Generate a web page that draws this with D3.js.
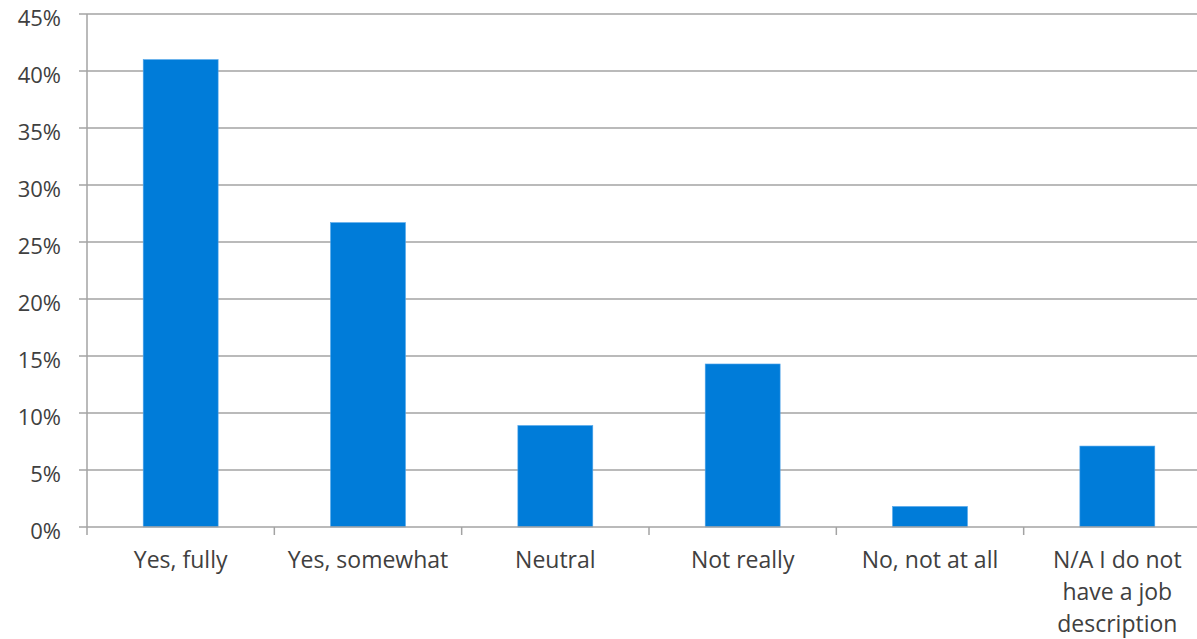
<!DOCTYPE html>
<html>
<head>
<meta charset="utf-8">
<script src="https://cdn.jsdelivr.net/npm/d3@7"></script>
<style>
  html, body { margin: 0; padding: 0; background: #fff; overflow: hidden; }
  svg { display: block; }
  text { font-family: "Open Sans", "Noto Sans", sans-serif; fill: #404040; }
</style>
</head>
<body>
<svg id="chart" width="1197" height="639"></svg>
<script>
const categories = ["Yes, fully", "Yes, somewhat", "Neutral", "Not really", "No, not at all", "N/A I do not have a job description"];
const labelLines = [["Yes, fully"], ["Yes, somewhat"], ["Neutral"], ["Not really"], ["No, not at all"], ["N/A I do not", "have a job", "description"]];
const values = [41.0, 26.7, 8.9, 14.3, 1.8, 7.1];
const yTicks = [0, 5, 10, 15, 20, 25, 30, 35, 40, 45];

(function () {
const svg = d3.select("#chart");
const mLeft = 87, mRight = 1211, mTop = 14, mBottom = 527;
const gridColor = "#a3a3a3";

const x = d3.scaleBand().domain(categories).range([mLeft, mRight]).paddingInner(0.6).paddingOuter(0.3);
const y = d3.scaleLinear().domain([0, 45]).range([mBottom, mTop]);

// gridlines
svg.append("g").selectAll("line").data(yTicks.filter(d => d > 0)).join("line")
  .attr("x1", mLeft).attr("x2", mRight)
  .attr("y1", d => y(d)).attr("y2", d => y(d))
  .attr("stroke", gridColor).attr("stroke-width", 1.5);

// y axis
const yAxis = svg.append("g");
yAxis.append("line").attr("x1", mLeft).attr("x2", mLeft).attr("y1", mTop).attr("y2", mBottom)
  .attr("stroke", gridColor).attr("stroke-width", 1.5);
yAxis.selectAll("line.tick").data(yTicks).join("line").attr("class", "tick")
  .attr("x1", mLeft - 8).attr("x2", mLeft)
  .attr("y1", d => y(d)).attr("y2", d => y(d))
  .attr("stroke", gridColor).attr("stroke-width", 1.5);
yAxis.selectAll("text").data(yTicks).join("text")
  .attr("x", 61).attr("y", d => y(d)).attr("dy", "0.55em")
  .attr("text-anchor", "end").attr("font-size", 22)
  .text(d => d + "%");

// bars
svg.append("g").selectAll("rect").data(values).join("rect")
  .attr("x", (d, i) => x(categories[i]))
  .attr("width", x.bandwidth())
  .attr("y", d => y(d))
  .attr("height", d => y(0) - y(d))
  .attr("fill", "#007cd9")
  .attr("stroke", "#52a6ea").attr("stroke-width", 0.6);

// x axis
const xAxis = svg.append("g");
xAxis.append("line").attr("x1", mLeft).attr("x2", mRight).attr("y1", mBottom).attr("y2", mBottom)
  .attr("stroke", gridColor).attr("stroke-width", 1.5);
const step = x.step();
xAxis.selectAll("line.tick").data(d3.range(categories.length + 1)).join("line").attr("class", "tick")
  .attr("x1", i => mLeft + i * step).attr("x2", i => mLeft + i * step)
  .attr("y1", mBottom).attr("y2", mBottom + 8)
  .attr("stroke", gridColor).attr("stroke-width", 1.5);
const lab = xAxis.selectAll("text").data(categories).join("text")
  .attr("x", d => x(d) + x.bandwidth() / 2)
  .attr("y", mBottom + 41)
  .attr("text-anchor", "middle").attr("font-size", 23);
lab.each(function(d, i) {
  d3.select(this).selectAll("tspan").data(labelLines[i]).join("tspan")
    .attr("x", x(d) + x.bandwidth() / 2)
    .attr("dy", (t, j) => j === 0 ? 0 : 32)
    .text(t => t);
});
})();
</script>
</body>
</html>
